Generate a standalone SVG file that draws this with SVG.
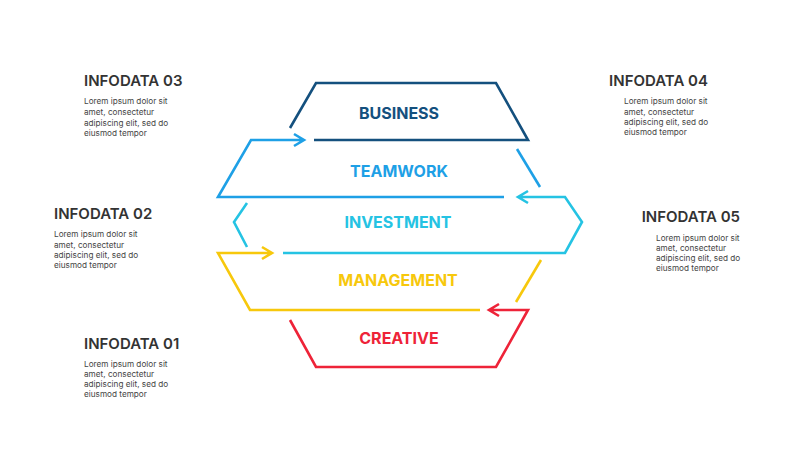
<svg xmlns="http://www.w3.org/2000/svg" width="800" height="450" viewBox="0 0 800 450">
<style>
.s{fill:none;stroke-width:2.6;stroke-linejoin:miter}
.l{font-family:Inter,"Liberation Sans",sans-serif;font-weight:700;font-size:16px;text-anchor:middle}
.h{font-family:Inter,"Liberation Sans",sans-serif;font-weight:600;font-size:15px;fill:#333}
.b{font-family:Inter,"Liberation Sans",sans-serif;font-size:8.2px;fill:#444}
.r{text-anchor:end}
</style>
<rect width="800" height="450" fill="#fff"/>
<g id="connectors">
<path class="s" stroke="#14507e" d="M290,128 L316,83 L496,83 L528,140 L314,140"/>
<g stroke="#1ea0e6" class="s"><path d="M504,197 L218,197 L251,140 L304,140 M294,134 L304,140 L294,146"/><path d="M517,149 L540,187"/></g>
<g stroke="#25c3e3" class="s"><path d="M247,203 L234,222 L247,247"/><path d="M283,253 L565,253 L582,222 L565,197 L518,197 M528,191 L518,197 L528,203"/></g>
<g stroke="#f7c80c" class="s"><path d="M480,310 L250,310 L218,253 L272,253 M262,247 L272,253 L262,259"/><path d="M541,260 L516,302"/></g>
<g stroke="#ee2338" class="s"><path d="M290,320 L316,367 L496,367 L528,310 L489,310 M499,304 L489,310 L499,316"/></g>
</g>
<g id="business"><text class="l" x="399" y="119" fill="#14507e">BUSINESS</text></g>
<g id="teamwork"><text class="l" x="399" y="177" fill="#1ea0e6">TEAMWORK</text></g>
<g id="investment"><text class="l" x="398" y="228" fill="#25c3e3">INVESTMENT</text></g>
<g id="management"><text class="l" x="398" y="286" fill="#f7c80c">MANAGEMENT</text></g>
<g id="creative"><text class="l" x="399" y="344" fill="#ee2338">CREATIVE</text></g>
<g id="info03"><text class="h" x="84" y="86">INFODATA 03</text><text class="b" x="84" y="104">Lorem ipsum dolor sit</text><text class="b" x="84" y="115">amet, consectetur</text><text class="b" x="84" y="126">adipiscing elit, sed do</text><text class="b" x="84" y="136">eiusmod tempor</text></g>
<g id="info02"><text class="h" x="54" y="219">INFODATA 02</text><text class="b" x="54" y="237">Lorem ipsum dolor sit</text><text class="b" x="54" y="248">amet, consectetur</text><text class="b" x="54" y="258">adipiscing elit, sed do</text><text class="b" x="54" y="268">eiusmod tempor</text></g>
<g id="info01"><text class="h" x="84" y="349">INFODATA 01</text><text class="b" x="84" y="367">Lorem ipsum dolor sit</text><text class="b" x="84" y="377">amet, consectetur</text><text class="b" x="84" y="387">adipiscing elit, sed do</text><text class="b" x="84" y="397">eiusmod tempor</text></g>
<g id="info04"><text class="h r" x="708" y="86">INFODATA 04</text><text class="b" x="624" y="104">Lorem ipsum dolor sit</text><text class="b" x="624" y="115">amet, consectetur</text><text class="b" x="624" y="125">adipiscing elit, sed do</text><text class="b" x="624" y="135">eiusmod tempor</text></g>
<g id="info05"><text class="h r" x="740" y="222">INFODATA 05</text><text class="b" x="656" y="241">Lorem ipsum dolor sit</text><text class="b" x="656" y="251">amet, consectetur</text><text class="b" x="656" y="261">adipiscing elit, sed do</text><text class="b" x="656" y="271">eiusmod tempor</text></g>
</svg>
